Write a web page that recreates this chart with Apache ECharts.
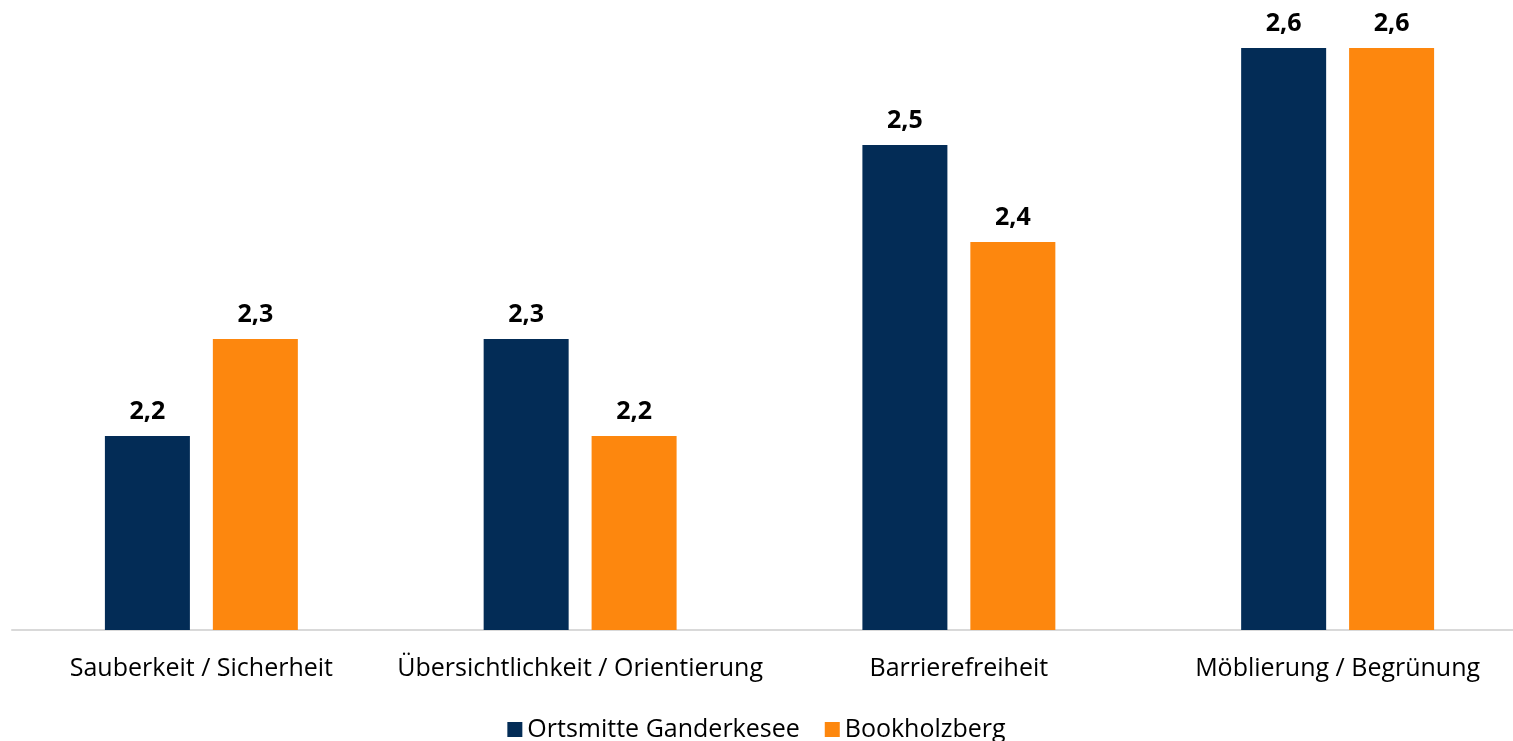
<!DOCTYPE html>
<html lang="de">
<head>
    <meta charset="UTF-8">
    <title>Bewertung</title>
    <script src="https://cdn.jsdelivr.net/npm/echarts@6/dist/echarts.min.js"></script>
    <style>
        html, body { margin: 0; padding: 0; background: #fff; }
        #main { width: 1513px; height: 741px; }
    </style>
</head>
<body>
<div id="main"></div>
<script>
    var categories = ['Sauberkeit / Sicherheit', 'Übersichtlichkeit / Orientierung', 'Barrierefreiheit', 'Möblierung / Begrünung'];
    var seriesNames = ['Ortsmitte Ganderkesee', 'Bookholzberg'];
    var ganderkesee = [2.2, 2.3, 2.5, 2.6];
    var bookholzberg = [2.3, 2.2, 2.4, 2.6];

    var font = '"Open Sans", Calibri, sans-serif';
    var myChart = echarts.init(document.getElementById('main'));

    function barLabel() {
        return {
            show: true,
            position: 'top',
            distance: 12,
            fontFamily: font,
            fontWeight: 'bold',
            fontSize: 25,
            color: '#000',
            formatter: function (p) { return p.value.toFixed(1).replace('.', ','); }
        };
    }

    var option = {
        animation: false,
        grid: { left: 12, width: 1515, top: 48, bottom: 111, outerBoundsMode: 'none', containLabel: false },
        legend: {
            top: 712,
            left: 'center',
            itemWidth: 15,
            itemHeight: 15,
            itemGap: 25,
            icon: 'rect',
            textStyle: { fontFamily: font, fontSize: 25, color: '#000' },
            data: seriesNames
        },
        xAxis: {
            type: 'category',
            data: categories,
            axisLine: { lineStyle: { color: '#d9d9d9', width: 2 } },
            axisTick: { show: false },
            axisLabel: { interval: 0, fontFamily: font, fontSize: 25, color: '#000', margin: 26 }
        },
        yAxis: {
            type: 'value',
            min: 2.0,
            max: 2.6,
            interval: 0.1,
            show: false,
            splitLine: { show: false }
        },
        series: [
            {
                name: seriesNames[0],
                type: 'bar',
                barWidth: 85,
                barGap: '27%',
                itemStyle: { color: '#032c56' },
                label: barLabel(),
                data: ganderkesee
            },
            {
                name: seriesNames[1],
                type: 'bar',
                barWidth: 85,
                itemStyle: { color: '#fd870e' },
                label: barLabel(),
                data: bookholzberg
            }
        ]
    };

    myChart.setOption(option);
</script>
</body>
</html>
